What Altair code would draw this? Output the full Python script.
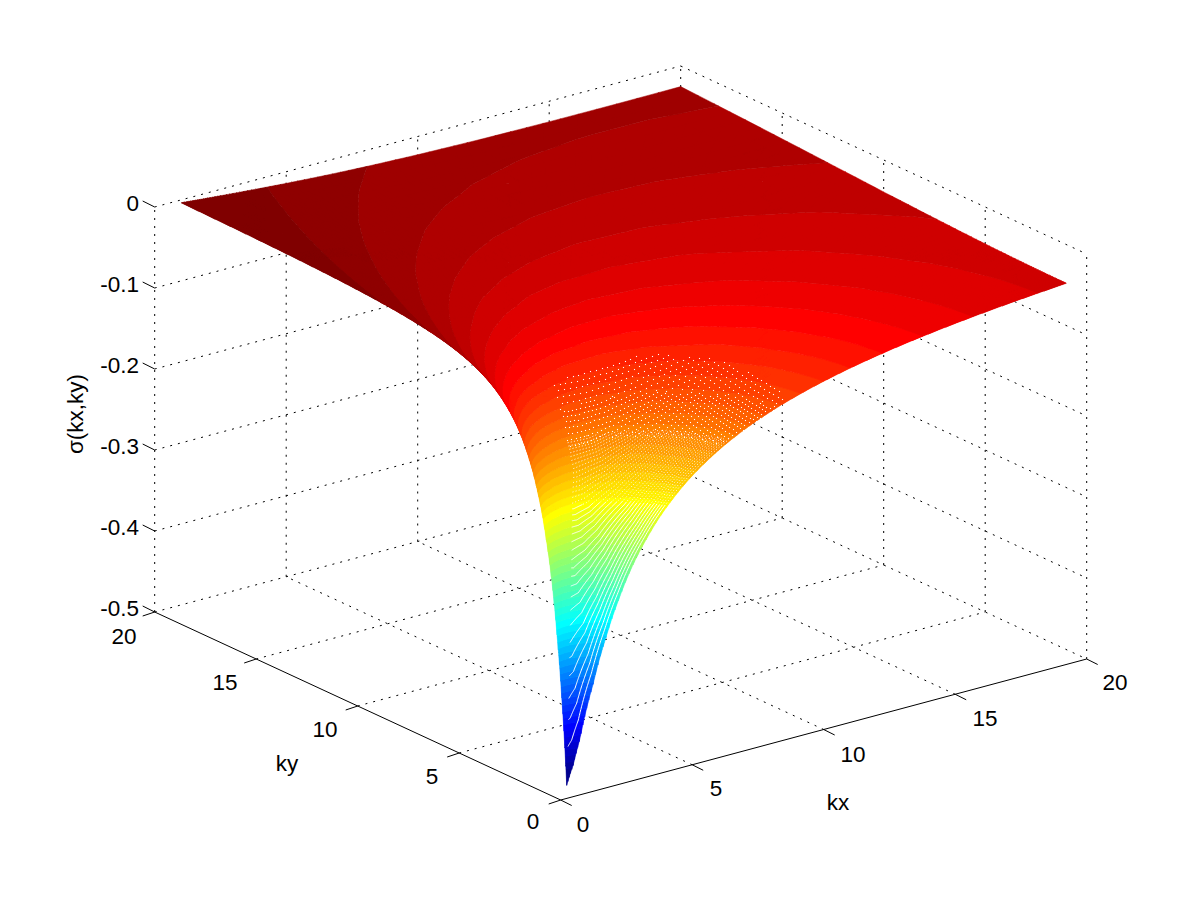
import altair as alt, numpy as np

KX_NODES = [1,1.25,1.5,2,2.5,3,4,5,6.5,8,10,12.5,15,17.5,20]
KY_NODES = [1,1.25,1.5,2,2.5,3,4,5,6.5,8,10,12.5,15,17.5,20]
# |sigma(kx,ky)|: one row per ky node, one column per kx node
SIGMA_ABS = [
 [0.50224,0.47909,0.44976,0.38655,0.33203,0.28844,0.22611,0.18487,0.14453,0.11834,0.09512,0.07628,0.06363,0.05456,0.04776],
 [0.39452,0.39805,0.38750,0.35000,0.30979,0.27426,0.21960,0.18149,0.14304,0.11759,0.09477,0.07611,0.06353,0.05450,0.04772],
 [0.31598,0.33060,0.33194,0.31398,0.28646,0.25876,0.21211,0.17747,0.14122,0.11664,0.09431,0.07589,0.06341,0.05442,0.04766],
 [0.21132,0.23233,0.24428,0.24945,0.24073,0.22640,0.19518,0.16796,0.13669,0.11422,0.09310,0.07529,0.06306,0.05420,0.04751],
 [0.14936,0.16918,0.18333,0.19800,0.20019,0.19531,0.17710,0.15710,0.13121,0.11118,0.09153,0.07448,0.06259,0.05391,0.04731],
 [0.11061,0.12766,0.14113,0.15866,0.16641,0.16753,0.15921,0.14564,0.12505,0.10762,0.08964,0.07349,0.06201,0.05353,0.04705],
 [0.06739,0.07941,0.08985,0.10621,0.11715,0.12362,0.12701,0.12300,0.11171,0.09946,0.08507,0.07102,0.06053,0.05257,0.04639],
 [0.04532,0.05397,0.06181,0.07514,0.08546,0.09302,0.10124,0.10280,0.09834,0.09064,0.07980,0.06803,0.05869,0.05136,0.04555],
 [0.02818,0.03383,0.03912,0.04866,0.05684,0.06367,0.07343,0.07863,0.08025,0.07758,0.07134,0.06291,0.05542,0.04916,0.04401],
 [0.01926,0.02322,0.02699,0.03400,0.04033,0.04595,0.05498,0.06105,0.06544,0.06583,0.06300,0.05747,0.05177,0.04663,0.04219],
 [0.01276,0.01543,0.01801,0.02291,0.02750,0.03177,0.03921,0.04497,0.05049,0.05291,0.05294,0.05033,0.04670,0.04296,0.03948],
 [0.00844,0.01023,0.01196,0.01530,0.01849,0.02154,0.02710,0.03178,0.03699,0.04017,0.04200,0.04182,0.04023,0.03806,0.03574],
 [0.00602,0.00730,0.00854,0.01096,0.01330,0.01557,0.01981,0.02354,0.02802,0.03117,0.03364,0.03473,0.03446,0.03344,0.03205],
 [0.00452,0.00548,0.00642,0.00825,0.01004,0.01178,0.01510,0.01810,0.02186,0.02473,0.02731,0.02900,0.02951,0.02928,0.02860],
 [0.00352,0.00427,0.00501,0.00645,0.00786,0.00924,0.01189,0.01434,0.01750,0.02003,0.02249,0.02440,0.02535,0.02563,0.02545],
]
ZTICKS=[0,-0.1,-0.2,-0.3,-0.4,-0.5]
ZTICK_LABELS=['0','-0.1','-0.2','-0.3','-0.4','-0.5']
KTICKS=[0,5,10,15,20]
KTICK_LABELS=['0','5','10','15','20']

LK=np.log(KX_NODES); LY=np.log(KY_NODES); LZ=np.log(np.array(SIGMA_ABS))
def sample(kx,ky):
    a=np.interp(np.log(kx),LK,np.arange(len(LK))); b=np.interp(np.log(ky),LY,np.arange(len(LY)))
    i=np.minimum(a.astype(int),len(LK)-2); j=np.minimum(b.astype(int),len(LY)-2)
    f=a-i; g=b-j
    return -np.exp(LZ[j,i]*(1-f)*(1-g)+LZ[j,i+1]*f*(1-g)+LZ[j+1,i]*(1-f)*g+LZ[j+1,i+1]*f*g)
def proj(kx,ky,z):
    return 560.7+26.3*kx-20.3*ky, 800-7.05*kx-9.4*ky-(z+0.5)*810
def jet(i):
    v=(i+1)/64
    c=lambda t:int(round(255*min(1,max(0,t))))
    return '#%02x%02x%02x'%(c(min(4*v-1.5,-4*v+4.5)),c(min(4*v-.5,-4*v+3.5)),c(min(4*v+.5,-4*v+2.5)))

ZMIN,ZMAX=-0.49,-0.005
STEP=(ZMAX-ZMIN)/64
t=np.linspace(0,1,70); g=20**t
GX,GY=np.meshgrid(g,g)
GZ=sample(GX.ravel(),GY.ravel()).reshape(GX.shape)
PX,PY=proj(GX,GY,GZ)
def clip(poly,lev,keep_above):
    out=[];n=len(poly)
    for a in range(n):
        p,q=poly[a],poly[(a+1)%n]
        ip=(p[2]>=lev) if keep_above else (p[2]<=lev)
        iq=(q[2]>=lev) if keep_above else (q[2]<=lev)
        if ip: out.append(p)
        if ip!=iq:
            s=(lev-p[2])/(q[2]-p[2])
            out.append((p[0]+s*(q[0]-p[0]),p[1]+s*(q[1]-p[1]),lev))
    return out
bands={i:[] for i in range(64)}
def level(z): return int(min(63,max(0,np.floor((z-ZMIN)/STEP))))
def add(tri):
    zs=[v[2] for v in tri]
    lo=level(min(zs)); hi=level(max(zs))
    for i in range(lo,hi+1):
        poly=tri
        if i>0: poly=clip(poly,ZMIN+i*STEP,True)
        if poly and i<63: poly=clip(poly,ZMIN+(i+1)*STEP,False)
        if len(poly)>=3:
            r=[[round(float(v[0])-8,2),round(float(v[1])-8,2)] for v in poly]
            bands[i].append([r+[r[0]]])
n=len(g)
for j in range(n-1):
    for i in range(n-1):
        A=(PX[j,i],PY[j,i],GZ[j,i]);B=(PX[j,i+1],PY[j,i+1],GZ[j,i+1])
        C=(PX[j+1,i+1],PY[j+1,i+1],GZ[j+1,i+1]);D=(PX[j+1,i],PY[j+1,i],GZ[j+1,i])
        add((A,B,C));add((A,C,D))
features=[{"type":"Feature","properties":{"c":jet(i)},"geometry":{"type":"MultiPolygon","coordinates":p}} for i,p in bands.items() if p]

sx=alt.Scale(domain=[8,1192],range=[0,1184]);sy=alt.Scale(domain=[8,892],range=[0,884])
X=lambda f:alt.X(f,type='quantitative',scale=sx,axis=None)
Y=lambda f:alt.Y(f,type='quantitative',scale=sy,axis=None)

surface=alt.Chart(alt.Data(values=features)).mark_geoshape(strokeWidth=0.5).encode(
    fill=alt.Fill('properties.c:N',scale=None),stroke=alt.Stroke('properties.c:N',scale=None)
).project(type='identity',scale=1,translate=[0,0])

# grid and axes
def seg(a,b):
    xa,ya=proj(a[0],a[1],a[2]);xb,yb=proj(b[0],b[1],b[2])
    return {'x':float(xa),'y':float(ya),'x2':float(xb),'y2':float(yb)}
dots=[];solid=[]
for k in KTICKS:
    if 0<k<20:
        dots.append(seg((k,0,-.5),(k,20,-.5)));dots.append(seg((0,k,-.5),(20,k,-.5)))
    dots.append(seg((k,20,-.5),(k,20,0)))
    if k<20: dots.append(seg((20,k,-.5),(20,k,0)))
for z in ZTICKS:
    dots.append(seg((0,20,z),(20,20,z)));dots.append(seg((20,20,z),(20,0,z)))
solid.append(seg((0,0,-.5),(20,0,-.5)));solid.append(seg((0,0,-.5),(0,20,-.5)))
for k in KTICKS:
    a=seg((k,0,-.5),(k,0,-.5));solid.append({'x':a['x'],'y':a['y'],'x2':a['x']+11,'y2':a['y']+5.5})
    a=seg((0,k,-.5),(0,k,-.5));solid.append({'x':a['x'],'y':a['y'],'x2':a['x']-12,'y2':a['y']+4})
for z in ZTICKS:
    a=seg((0,20,z),(0,20,z));solid.append({'x':a['x'],'y':a['y'],'x2':a['x']-12,'y2':a['y']-6})
def rules(d,**kw):
    return alt.Chart(alt.Data(values=d)).mark_rule(color='black',strokeWidth=1,**kw).encode(x=X('x'),y=Y('y'),x2=alt.X2('x2'),y2=alt.Y2('y2'))
grid=rules(dots,strokeDash=[2,6]);axes=rules(solid)

# white gaps between the mesh facets
def left_bound(y): return np.interp(y,[383,420,467,510,800],[553,562,573,572,567])
def top_bound(x): return np.interp(x,[553,570,590,620,643,655,683,710,733,750,770,785],[383,373,367,358,355,352,357,357,365,372,380,397])
pts=[]
def lattice(step,zlo,zhi):
    for kx in np.arange(1,14,step):
        for ky in np.arange(1,10,step):
            z=float(sample(np.array([kx]),np.array([ky]))[0])
            x,y=proj(kx,ky,z)
            if zlo<z<=zhi and x>=left_bound(y) and x<=785 and y>=top_bound(x):
                pts.append({'x':round(float(x))+.5,'y':round(float(y))+.5})
lattice(0.22,-0.105,-0.01)
lattice(0.16,-0.135,-0.105)
gapdots=alt.Chart(alt.Data(values=pts)).mark_square(size=1.2,color='white',opacity=1).encode(x=X('x'),y=Y('y'))
solid_lines=[];dash_lines=[]
for m,ky in enumerate(np.arange(1.08,6,0.08)):
    kk=20**np.linspace(0,0.75,260);zz=sample(kk,np.full_like(kk,ky));xx,yy=proj(kk,ky,zz)
    for a,b,c in zip(xx,yy,zz):
        if a>=left_bound(b):
            if c<-0.19: solid_lines.append({'x':float(a),'y':float(b),'k':float(ky)})
            elif c<-0.13: dash_lines.append({'x':float(a),'y':float(b),'k':float(ky)})
gaplines=alt.Chart(alt.Data(values=solid_lines)).mark_line(color='white',strokeWidth=1).encode(x=X('x'),y=Y('y'),detail='k:N',order=alt.Order('y:Q',sort='descending'))
gapdash=alt.Chart(alt.Data(values=dash_lines)).mark_line(color='white',strokeWidth=1,strokeDash=[1,2.2]).encode(x=X('x'),y=Y('y'),detail='k:N',order=alt.Order('y:Q',sort='descending'))

FS=22.5
right=[{'x':139,'y':y0,'t':t} for y0,t in zip([204,285,366,447,528,609],ZTICK_LABELS)]
center=[]
for xy,t in zip([(533,822),(432,777),(325,730),(225,683),(124,637)],KTICK_LABELS):
    center.append({'x':xy[0],'y':xy[1],'t':t})
for xy,t in zip([(583,825),(716,789),(853,755),(985,719),(1115,683)],KTICK_LABELS):
    center.append({'x':xy[0],'y':xy[1],'t':t})
center+= [{'x':287,'y':764,'t':'ky'},{'x':838,'y':803,'t':'kx'}]
def txt(d,al):
    return alt.Chart(alt.Data(values=d)).mark_text(font='Liberation Sans',fontSize=FS,baseline='middle',color='black',align=al).encode(x=X('x'),y=Y('y'),text='t:N')
ylab=alt.Chart(alt.Data(values=[{'x':76,'y':414,'t':'σ(kx,ky)'}])).mark_text(font='Liberation Sans',fontSize=FS,baseline='middle',align='center',angle=270,color='black').encode(x=X('x'),y=Y('y'),text='t:N')

chart=alt.layer(grid,surface,gapdots,gapdash,gaplines,axes,txt(right,'right'),txt(center,'center'),ylab).properties(width=1184,height=884,padding=0,autosize=alt.AutoSizeParams(type='none'),background='white').configure_view(stroke=None)
chart.save("out.html",embed_options={"renderer":"svg","actions":False})
